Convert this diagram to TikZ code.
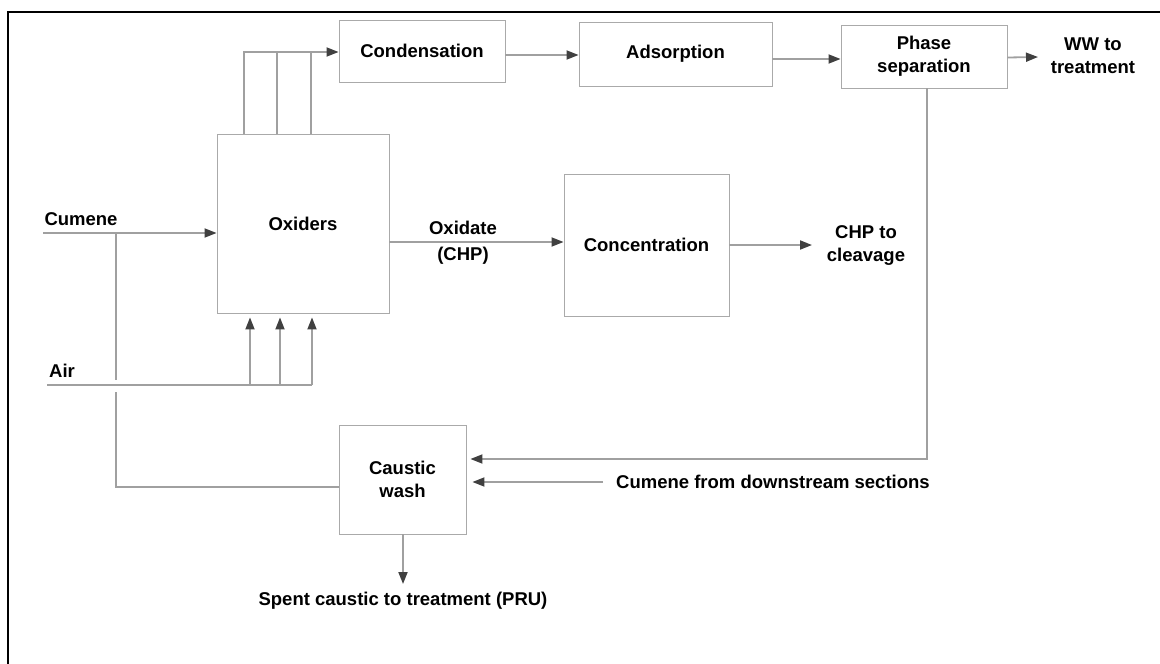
\documentclass[tikz,border=0pt]{standalone}
\usepackage{fontspec}
\setmainfont{Liberation Sans}
\usetikzlibrary{arrows.meta,calc}
\definecolor{linegray}{HTML}{A0A0A0}
\definecolor{boxgray}{HTML}{AAAAAA}
\definecolor{tipgray}{HTML}{404040}
\tikzset{
  procbox/.style={draw=boxgray,line width=0.9pt,fill=white,inner sep=0pt,align=center,
    font=\fontsize{18.5}{23}\selectfont\bfseries},
  lbl/.style={inner sep=0pt,align=center,font=\fontsize{18.5}{23}\selectfont\bfseries},
  flow/.style={draw=linegray,line width=1.8pt},
  flowarr/.style={flow,-{Triangle[length=12pt,width=9pt,color=tipgray]}},
}
\begin{document}
\begin{tikzpicture}[x=1pt,y=-1pt]
\useasboundingbox (0,0) rectangle (1160,664);
\draw[line width=2pt,black] (8,664) -- (8,12) -- (1160,12);

% boxes
\node[procbox,minimum width=166,minimum height=62] (cond) at (422,51) {Condensation};
\node[procbox,minimum width=193,minimum height=64] (ads) at (675.5,54) {Adsorption};
\node[procbox,minimum width=166,minimum height=63] (phase) at (924,56.5) {Phase\\separation};
\node[procbox,minimum width=172,minimum height=179] (oxi) at (303,223.5) {Oxiders};
\node[procbox,minimum width=165,minimum height=142] (conc) at (646.5,245) {Concentration};
\node[procbox,minimum width=127,minimum height=109] (caus) at (402.5,479.5) {Caustic\\wash};

% labels
\node[lbl] (ww) at (1093,56) {WW to\\treatment};
\node[lbl] (cum) at (81,219) {Cumene};
\node[lbl] (air) at (62,371) {Air};
\node[lbl] (oxd) at (463,228) {Oxidate};
\node[lbl] (chp) at (463,256) {(CHP)};
\node[lbl] (cleave) at (866,245) {CHP to\\cleavage};
\node[lbl,anchor=west] (cfd) at (616,482) {Cumene from downstream sections};
\node[lbl] (spent) at (403,601) {Spent caustic to treatment (PRU)};

% coordinates
\coordinate (t1) at (244,134);
\coordinate (t2) at (277,134);
\coordinate (t3) at (311,134);
\coordinate (top) at (244,52);
\coordinate (wwend) at (1038,57);
\coordinate (cin) at (43,233);
\coordinate (j1) at (116,233);
\coordinate (j2) at (116,380);
\coordinate (j3) at (116,392);
\coordinate (ain) at (47,385);
\coordinate (b1) at (250,385);
\coordinate (b2) at (280,385);
\coordinate (b3) at (312,385);
\coordinate (ps) at (927,88);
\coordinate (concend) at (812,245);
\coordinate (spentend) at (403,584);

% top flows
\draw[flowarr] (t1) -- (top) -- (cond.west |- top);
\draw[flow] (t2) -- (t2 |- top);
\draw[flow] (t3) -- (t3 |- top);
\draw[flowarr] ($(cond.east)+(0,4)$) -- ($(ads.west)+(0,1)$);
\draw[flowarr] ($(ads.east)+(0,5)$) -- ($(phase.west)+(0,2.5)$);
\draw[flowarr] ($(phase.east)+(0,1)$) -- (wwend);

% cumene and air feeds
\draw[flowarr] (cin) -- (oxi.west |- cin);
\draw[flow] (j1) -- (j2);
\draw[flow] (j3) |- ($(caus.west)+(0,7.5)$);
\draw[flow] (ain) -- (b3);
\draw[flowarr,shorten >=4pt] (b1) -- (oxi.south -| b1);
\draw[flowarr,shorten >=4pt] (b2) -- (oxi.south -| b2);
\draw[flowarr,shorten >=4pt] (b3) -- (oxi.south -| b3);

% oxidate
\draw[flowarr] ($(oxi.east)+(0,18.5)$) -- ($(conc.west)+(0,-3)$);
\draw[flowarr] (conc.east) -- (concend);

% recycle to caustic wash
\draw[flowarr,shorten >=4pt] (ps) |- ($(caus.east)+(0,-20.5)$);
\draw[flowarr,shorten >=6pt,shorten <=13pt] (cfd.west) -- (caus.east |- cfd.west);
\draw[flowarr] (caus.south -| spentend) -- (spentend);
\end{tikzpicture}
\end{document}
